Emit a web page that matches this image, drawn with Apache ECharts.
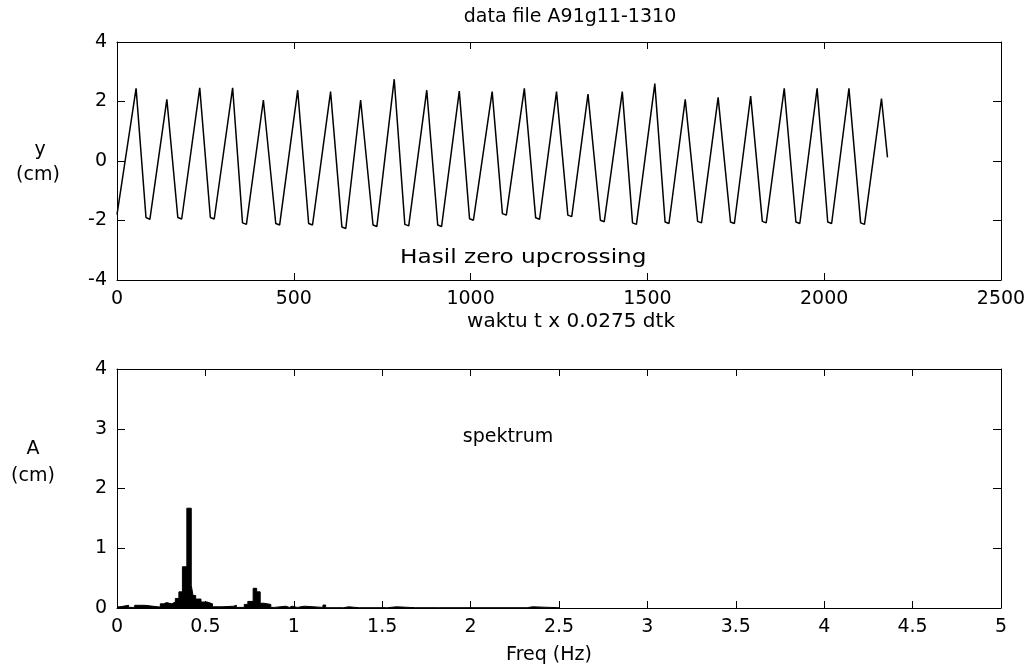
<!DOCTYPE html>
<html><head><meta charset="utf-8">
<script src="https://cdn.jsdelivr.net/npm/echarts@6/dist/echarts.min.js"></script>
<style>html,body{margin:0;padding:0;background:#fff}#c{width:1029px;height:667px}</style>
</head><body><div id="c"></div>
<script>
// ---- data ----
const waveT = [0, 54, 82, 93, 141, 172, 183, 234, 264, 275, 327, 355, 366, 414, 449, 460, 511, 542, 553, 604, 636, 647, 689, 724, 735, 784, 814, 825, 876, 907, 918, 968, 997, 1008, 1061, 1090, 1101, 1152, 1184, 1195, 1243, 1275, 1286, 1332, 1367, 1378, 1429, 1458, 1469, 1521, 1550, 1561, 1607, 1642, 1653, 1700, 1735, 1746, 1792, 1825, 1836, 1887, 1920, 1931, 1980, 2010, 2021, 2070, 2103, 2114, 2162, 2179];
const waveY = [-1.8, 2.44, -1.9, -1.96, 2.07, -1.9, -1.95, 2.46, -1.9, -1.95, 2.46, -2.08, -2.13, 2.05, -2.1, -2.15, 2.38, -2.1, -2.15, 2.33, -2.22, -2.27, 2.05, -2.15, -2.2, 2.75, -2.13, -2.18, 2.38, -2.15, -2.2, 2.35, -1.94, -1.99, 2.33, -1.77, -1.82, 2.44, -1.91, -1.96, 2.33, -1.82, -1.87, 2.25, -1.99, -2.04, 2.33, -2.08, -2.13, 2.6, -2.05, -2.1, 2.07, -2.03, -2.08, 2.14, -2.05, -2.1, 2.18, -2.03, -2.08, 2.44, -2.05, -2.1, 2.44, -2.05, -2.1, 2.44, -2.08, -2.13, 2.1, 0.12];

const specF = [0.00, 0.017, 0.066, 0.10, 0.157, 0.245, 0.264, 0.28, 0.31, 0.33, 0.35, 0.37, 0.395, 0.42, 0.43, 0.445, 0.475, 0.51, 0.54, 0.594, 0.66, 0.675, 0.72, 0.74, 0.77, 0.79, 0.81, 0.83, 0.87, 0.89, 0.955, 0.975, 0.99, 1.02, 1.06, 1.165, 1.18, 1.28, 1.31, 1.37, 1.38, 1.53, 1.58, 1.69, 1.70, 1.82, 1.83, 2.07, 2.08, 2.32, 2.35, 2.5];
const specA = [0.02, 0.045, 0.01, 0.045, 0.015, 0.07, 0.09, 0.07, 0.10, 0.16, 0.27, 0.69, 1.67, 0.38, 0.21, 0.15, 0.10, 0.07, 0.02, 0.03, 0.045, 0.01, 0.06, 0.11, 0.33, 0.27, 0.08, 0.06, 0.01, 0.03, 0.01, 0.03, 0.01, 0.03, 0.01, 0.05, 0.005, 0.02, 0.005, 0.02, 0.005, 0.02, 0.005, 0.02, 0.005, 0.02, 0.005, 0.015, 0.005, 0.02, 0.005, 0];

const waveXTicks = [0, 500, 1000, 1500, 2000, 2500];
const waveYTicks = [-4, -2, 0, 2, 4];
const specXTicks = [0, 0.5, 1, 1.5, 2, 2.5, 3, 3.5, 4, 4.5, 5];
const specYTicks = [0, 1, 2, 3, 4];

// ---- chart ----
const FONT = 'DejaVu Sans';
const black = '#000';
function axisBase(ticks, gridIndex, position, showLabel, tickLen) {
  return {
    type: 'value', gridIndex, position,
    min: ticks[0], max: ticks[ticks.length - 1], interval: ticks[1] - ticks[0],
    axisLine: { show: true, onZero: false, lineStyle: { color: black, width: 1 } },
    axisTick: { show: true, inside: true, length: tickLen, lineStyle: { color: black, width: 1 } },
    axisLabel: { show: showLabel, color: black, fontFamily: FONT, fontSize: 19, margin: 10,
      formatter: v => String(v) },
    splitLine: { show: false }
  };
}
const chart = echarts.init(document.getElementById('c'), null, { renderer: 'canvas' });
function txt(text, x, y, align, size, sx) {
  return { type: 'text', x, y, scaleX: sx || 1,
    style: { text, fill: black, font: (size || 19) + 'px "' + FONT + '"', align: align || 'center', verticalAlign: 'middle' } };
}
chart.setOption({
  animation: false,
  backgroundColor: '#fff',
  grid: [
    { left: 117, top: 42, width: 884, height: 238 },
    { left: 117, top: 369, width: 884, height: 239 }
  ],
  xAxis: [
    axisBase(waveXTicks, 0, 'bottom', true, 7),
    axisBase(waveXTicks, 0, 'top', false, 7),
    axisBase(specXTicks, 1, 'bottom', true, 7),
    axisBase(specXTicks, 1, 'top', false, 7)
  ],
  yAxis: [
    axisBase(waveYTicks, 0, 'left', true, 8),
    axisBase(waveYTicks, 0, 'right', false, 8),
    axisBase(specYTicks, 1, 'left', true, 8),
    axisBase(specYTicks, 1, 'right', false, 8)
  ],
  series: [
    {
      type: 'line', xAxisIndex: 0, yAxisIndex: 0, symbol: 'none',
      lineStyle: { color: black, width: 1.5 },
      data: waveT.map((t, i) => [t, waveY[i]])
    },
    {
      type: 'line', xAxisIndex: 2, yAxisIndex: 2, symbol: 'none', step: 'end',
      lineStyle: { color: black, width: 1 },
      areaStyle: { color: black, opacity: 1 },
      data: specF.map((f, i) => [f, specA[i]])
    }
  ],
  graphic: [
    txt('data file A91g11-1310', 570, 17),
    txt('Hasil zero upcrossing', 400, 258, 'left', 20, 1.16),
    txt('waktu t x 0.0275 dtk', 571, 322, 'center', 20),
    txt('spektrum', 508, 437),
    txt('Freq (Hz)', 549, 655),
    txt('y', 40, 150),
    txt('(cm)', 38, 175),
    txt('A', 33, 449),
    txt('(cm)', 33, 476)
  ]
});
</script></body></html>
